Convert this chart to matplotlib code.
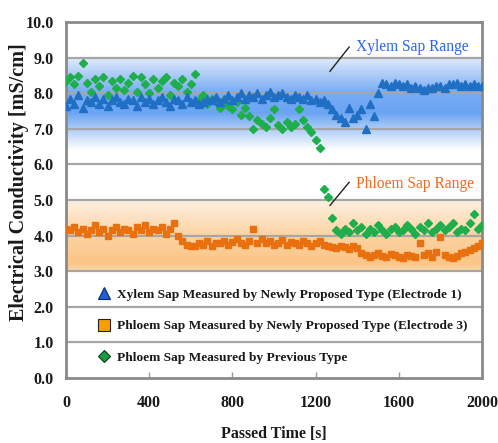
import numpy as np
import matplotlib
matplotlib.use("Agg")
import matplotlib.pyplot as plt
from matplotlib.colors import LinearSegmentedColormap
from matplotlib.lines import Line2D

# Sampling times [s]
time_s = np.arange(0, 2001, 20)

# Xylem sap, newly proposed type (electrode 1) [mS/cm]
xylem_new = [
    7.65, 7.85, 7.70, 7.95, 7.60, 7.80, 7.75, 7.90, 7.70, 7.85, 7.65, 7.80, 7.90, 7.75, 7.70, 7.85,
    7.80, 7.65, 7.90, 7.75, 7.85, 7.70, 7.80, 7.90, 7.75, 7.65, 7.85, 7.80, 7.70, 7.90, 7.75, 7.80, 7.70,
    7.75, 7.85, 7.80, 7.90, 7.75, 7.85, 7.95, 7.80, 7.90, 8.00, 7.85, 7.95, 7.90, 8.00, 7.85, 7.95,
    8.05, 7.90, 7.95, 8.00, 7.90, 7.85, 7.95,
    7.90, 7.85, 7.95, 7.80, 7.85, 7.75, 7.80, 7.70,
    7.55, 7.40, 7.30, 7.20, 7.60,
    7.30, 7.40, 7.55, 7.00, 7.70, 7.35,
    8.00, 8.30, 8.25, 8.20, 8.30, 8.25, 8.20, 8.25, 8.15, 8.20, 8.15, 8.10, 8.15, 8.15, 8.20, 8.20,
    8.15, 8.25, 8.25, 8.30, 8.20, 8.25, 8.20, 8.25, 8.20, 8.20,
]

# Phloem sap, newly proposed type (electrode 3) [mS/cm]
phloem_new = [
    4.20, 4.15, 4.25, 4.10, 4.20, 4.05, 4.15, 4.30, 4.10, 4.20, 4.00, 4.15, 4.25, 4.10, 4.20, 4.15,
    4.05, 4.25, 4.15, 4.30, 4.10, 4.20, 4.15, 4.25, 4.05, 4.20, 4.35,
    4.00, 3.85, 3.75, 3.70, 3.72, 3.80, 3.75, 3.85, 3.70, 3.80, 3.78, 3.85, 3.75, 3.82, 3.90, 3.80,
    3.75, 3.85, 4.20, 3.80, 3.90, 3.78, 3.85, 3.75, 3.80, 3.88, 3.75, 3.82, 3.80, 3.75, 3.85, 3.78,
    3.70, 3.80, 3.85, 3.75, 3.72, 3.68,
    3.65, 3.70, 3.68, 3.62, 3.70, 3.65, 3.50, 3.45, 3.40, 3.45, 3.50, 3.42, 3.40, 3.48, 3.45, 3.40,
    3.38, 3.45, 3.42, 3.40, 3.78, 3.45, 3.50, 3.40, 3.55, 3.95, 3.45, 3.40, 3.38, 3.42, 3.50, 3.55,
    3.60, 3.65, 3.70, 3.78,
]

# Phloem sap, previous type [mS/cm]
phloem_prev = [
    8.35, 8.45, 8.25, 8.50, 8.85, 8.30, 8.05, 8.40, 8.20, 8.45, 7.95, 8.35, 8.15, 8.40, 8.10, 8.30,
    8.50, 8.05, 8.45, 8.25, 8.00, 8.40, 8.15, 8.35, 8.45, 7.95, 8.30, 8.20, 8.40, 8.05, 8.25, 8.55,
    7.80, 7.95, 7.70, 7.85, 7.75, 7.60, 7.80, 7.65, 7.55, 7.75, 7.40, 7.60, 7.35,
    7.00, 7.25, 7.15, 7.05, 7.30, 7.55, 7.10, 7.00, 7.20, 7.05, 7.15, 7.55, 7.25, 7.05, 6.90, 6.70,
    6.45, 5.30,
    5.10, 4.50, 4.15, 4.05, 4.20, 4.10, 4.35, 4.15, 4.25, 4.05, 4.20, 4.10, 4.30, 4.15, 4.05, 4.20,
    4.25, 4.10, 4.15, 4.30, 4.20, 4.05, 4.25, 4.15, 4.35, 4.10, 4.20, 4.30, 4.15, 4.25, 4.35, 4.10,
    4.20, 4.15, 4.35, 4.60, 4.20, 4.30,
]

x_ticks = [0, 400, 800, 1200, 1600, 2000]
y_ticks = [0.0, 1.0, 2.0, 3.0, 4.0, 5.0, 6.0, 7.0, 8.0, 9.0, 10.0]

xylem_range = (6.4, 9.0)
phloem_range = (3.0, 5.0)

legend_labels = [
    "Xylem Sap Measured by Newly Proposed Type (Electrode 1)",
    "Phloem Sap Measured by Newly Proposed Type (Electrode 3)",
    "Phloem Sap Measured by Previous Type",
]

serif = ["Liberation Serif", "DejaVu Serif"]

fig = plt.figure(figsize=(4.98, 4.43), dpi=100)
ax = fig.add_axes([0.1325, 0.1467, 0.8355, 0.8033])

# Gradient bands for the typical sap ranges
blue_cmap = LinearSegmentedColormap.from_list(
    "xylem_band",
    [(0.0, "#ffffff"), (0.22, "#b0cdf8"), (0.40, "#6aa4f3"), (0.62, "#78acf4"),
     (0.85, "#b8d2f8"), (1.0, "#e4edfc")])
orange_cmap = LinearSegmentedColormap.from_list(
    "phloem_band",
    [(0.0, "#fcd7aa"), (0.12, "#fbc587"), (0.5, "#fcd3a3"), (1.0, "#fdf1e3")])
grad = np.linspace(0, 1, 256).reshape(-1, 1)
ax.imshow(grad, extent=[0, 2000, xylem_range[0], xylem_range[1]], origin="lower",
          aspect="auto", cmap=blue_cmap, zorder=0.5, interpolation="bilinear")
ax.imshow(grad, extent=[0, 2000, phloem_range[0], phloem_range[1]], origin="lower",
          aspect="auto", cmap=orange_cmap, zorder=0.5, interpolation="bilinear")
ax.set_xlim(0, 2000)
ax.set_ylim(0, 10)

# Horizontal grid
for yv in y_ticks[1:-1]:
    ax.axhline(yv, color="#a6a6a6", lw=1.6, zorder=1)

# Measurement series
ax.plot(time_s, phloem_prev, ls="none", marker="D", ms=4.2, color="#1fae4c", mec="#1fae4c", zorder=3)
ax.plot(time_s, phloem_new, ls="none", marker="s", ms=4.8, color="#e8700f", mec="#e8700f", zorder=3)
ax.plot(time_s, xylem_new, ls="none", marker="^", ms=5.2, color="#1f6fc4", mec="#1f6fc4", zorder=4)

# Range annotations
ax.plot([1269, 1361], [8.62, 9.30], color="#222222", lw=1.0, zorder=5)
ax.text(1392, 9.30, "Xylem Sap Range", color="#2a66e6", fontsize=11.2, family=serif,
        va="center", ha="left", zorder=5)
ax.plot([1269, 1361], [4.85, 5.50], color="#222222", lw=1.0, zorder=5)
ax.text(1392, 5.45, "Phloem Sap Range", color="#f26a1e", fontsize=11.2, family=serif,
        va="center", ha="left", zorder=5)

# Legend
handles = [
    Line2D([], [], ls="none", marker="^", ms=8, color="#1f5fd8", mec="#0d2a66", mew=0.8),
    Line2D([], [], ls="none", marker="s", ms=8, color="#f7a000", mec="#222222", mew=0.8),
    Line2D([], [], ls="none", marker="D", ms=6.5, color="#1c9a44", mec="#0b3a18", mew=0.8),
]
leg = ax.legend(handles, legend_labels, loc="upper left", bbox_to_anchor=(0.075, 0.252),
                frameon=False, handlelength=1.0, handletextpad=0.5, labelspacing=1.45,
                borderpad=0, borderaxespad=0,
                prop={"family": serif, "weight": "bold", "size": 9.6})
for t in leg.get_texts():
    t.set_color("#1a1a1a")

# Axes styling
for sp in ax.spines.values():
    sp.set_color("#8a8a8a")
    sp.set_linewidth(2.0)
ax.set_xticks(x_ticks)
ax.set_xticklabels([str(v) for v in x_ticks])
ax.set_yticks(y_ticks)
ax.set_yticklabels([f"{v:.1f}" for v in y_ticks])
ax.tick_params(axis="x", direction="in", length=4, width=1.0, color="#9a9a9a", pad=12)
ax.tick_params(axis="y", length=0, pad=9)
for lab in ax.get_xticklabels() + ax.get_yticklabels():
    lab.set_fontfamily(serif)
    lab.set_fontweight("bold")
    lab.set_fontsize(11.5)
    lab.set_color("#1a1a1a")

ax.set_xlabel("Passed Time [s]", family=serif, fontweight="bold", fontsize=11.5, color="#1a1a1a",
              labelpad=11)
ax.set_ylabel("Electrical Conductivity [mS/cm]", family=serif, fontweight="bold", fontsize=14.5,
              color="#1a1a1a")
ax.yaxis.set_label_coords(-0.088, 0.55)

fig.savefig("out.png", dpi=100)
